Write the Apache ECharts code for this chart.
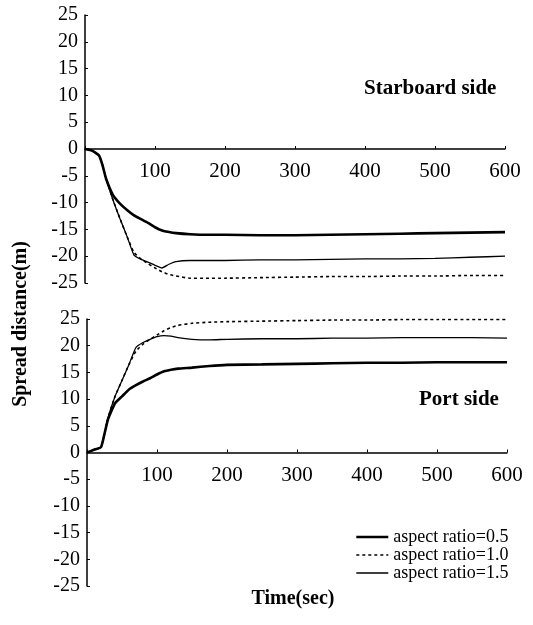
<!DOCTYPE html>
<html>
<head>
<meta charset="utf-8">
<script src="https://cdn.jsdelivr.net/npm/echarts@6/dist/echarts.min.js"></script>
<style>
  html, body { margin: 0; padding: 0; background: #fff; }
  #chart { width: 533px; height: 625px; }
</style>
</head>
<body>
<div id="chart"></div>
<script>
const chartDom = document.getElementById('chart');
const myChart = echarts.init(chartDom);

// time (sec)
const time = [0, 10, 20, 25, 30, 40, 50, 60, 70, 80, 90, 100, 110, 120, 130, 150, 175, 200, 250, 300, 350, 400, 450, 500, 550, 600];

// starboard side spread distance (m)
const starAR05 = [0, -0.3, -1.2, -3, -5.5, -8.6, -10.2, -11.4, -12.4, -13.1, -13.8, -14.6, -15.2, -15.5, -15.7, -15.9, -16, -16, -16.1, -16.1, -16, -15.9, -15.8, -15.7, -15.6, -15.5];
const starAR10 = [0, -0.3, -1.2, -3, -5.5, -9.5, -13, -16.3, -19.3, -20.5, -21.4, -22.2, -22.9, -23.4, -23.7, -24.1, -24.1, -24.1, -24, -23.9, -23.8, -23.8, -23.7, -23.7, -23.6, -23.6];
const starAR15 = [0, -0.3, -1.2, -3, -5.5, -9.5, -13, -16.3, -19.8, -20.6, -21.1, -21.7, -22.2, -21.5, -21, -20.8, -20.8, -20.8, -20.7, -20.7, -20.6, -20.5, -20.5, -20.4, -20.2, -20];

// port side spread distance (m)
const portAR05 = [0, 0.5, 1, 3.5, 6.2, 9.2, 10.5, 11.8, 12.6, 13.3, 13.9, 14.6, 15.2, 15.5, 15.7, 15.9, 16.2, 16.4, 16.5, 16.6, 16.7, 16.8, 16.8, 16.9, 16.9, 16.9];
const portAR10 = [0, 0.5, 1, 3.5, 6.5, 10.5, 13.5, 16.5, 19, 20.3, 21.2, 22, 22.8, 23.4, 23.8, 24.2, 24.4, 24.5, 24.6, 24.7, 24.8, 24.8, 24.9, 24.9, 24.9, 24.9];
const portAR15 = [0, 0.5, 1, 3.5, 6.5, 10.5, 13.5, 16.5, 19.7, 20.6, 21.2, 21.7, 21.9, 21.8, 21.5, 21.2, 21.1, 21.2, 21.3, 21.3, 21.4, 21.4, 21.5, 21.5, 21.5, 21.4];

const names = ['aspect ratio=0.5', 'aspect ratio=1.0', 'aspect ratio=1.5'];

const FONT = '"Liberation Serif", "Times New Roman", serif';
const pair = arr => time.map((t, i) => [t, arr[i]]);

const styles = [
  { width: 2.6, type: 'solid' },
  { width: 1.6, type: [3, 3] },
  { width: 1.3, type: 'solid' }
];

function makeSeries(arrs, idx) {
  return arrs.map((a, i) => ({
    name: names[i],
    type: 'line',
    xAxisIndex: idx,
    yAxisIndex: idx,
    data: pair(a),
    symbol: 'none',
    smooth: 0.15,
    lineStyle: Object.assign({ color: '#000' }, styles[i]),
    itemStyle: { color: '#000' },
    z: 3 - i
  }));
}

// x axis drawn at y=0 by shifting it up half the grid height
function xAxisFor(gridIndex, half) {
  return {
    gridIndex: gridIndex,
    type: 'value',
    min: 0,
    max: 600,
    interval: 100,
    offset: -half,
    axisLine: { onZero: false, lineStyle: { color: '#000', width: 1.5 } },
    axisTick: { inside: true, length: 3, lineStyle: { color: '#000' } },
    axisLabel: {
      color: '#000', fontFamily: FONT, fontSize: 21, margin: 12,
      formatter: v => (v === 0 ? '' : String(v))
    },
    splitLine: { show: false }
  };
}

const yAxisBase = {
  type: 'value',
  min: -25,
  max: 25,
  interval: 5,
  axisLine: { show: true, lineStyle: { color: '#000', width: 1.5 } },
  axisTick: { show: true, inside: true, length: 3, lineStyle: { color: '#000' } },
  axisLabel: { color: '#000', fontFamily: FONT, fontSize: 20, margin: 7 },
  splitLine: { show: false }
};

const titleText = { fontFamily: FONT, fontSize: 21, fontWeight: 'bold', color: '#000' };

const option = {
  animation: false,
  backgroundColor: '#fff',
  grid: [
    { left: 85, top: 15, width: 420, height: 268 },
    { left: 87, top: 319, width: 420, height: 267 }
  ],
  xAxis: [xAxisFor(0, 134), xAxisFor(1, 133.5)],
  yAxis: [
    Object.assign({ gridIndex: 0 }, yAxisBase),
    Object.assign({ gridIndex: 1 }, yAxisBase)
  ],
  legend: {
    orient: 'vertical',
    left: 350,
    top: 523,
    itemGap: 0,
    itemWidth: 32,
    itemHeight: 18,
    data: names,
    itemStyle: { opacity: 0 },
    lineStyle: { width: 'inherit' },
    textStyle: { color: '#000', fontFamily: FONT, fontSize: 18 }
  },
  title: [
    { text: 'Starboard side', left: 359, top: 73, textStyle: titleText },
    { text: 'Port side', left: 414, top: 384, textStyle: titleText }
  ],
  graphic: [
    { type: 'text', x: 21, y: 324, rotation: Math.PI / 2,
      style: { text: 'Spread distance(m)', font: 'bold 20px ' + FONT, fill: '#000',
               textAlign: 'center', textVerticalAlign: 'middle' } },
    { type: 'text', x: 293, y: 599,
      style: { text: 'Time(sec)', font: 'bold 20px ' + FONT, fill: '#000',
               textAlign: 'center', textVerticalAlign: 'middle' } }
  ],
  series: makeSeries([starAR05, starAR10, starAR15], 0)
    .concat(makeSeries([portAR05, portAR10, portAR15], 1))
};

myChart.setOption(option);
</script>
</body>
</html>
